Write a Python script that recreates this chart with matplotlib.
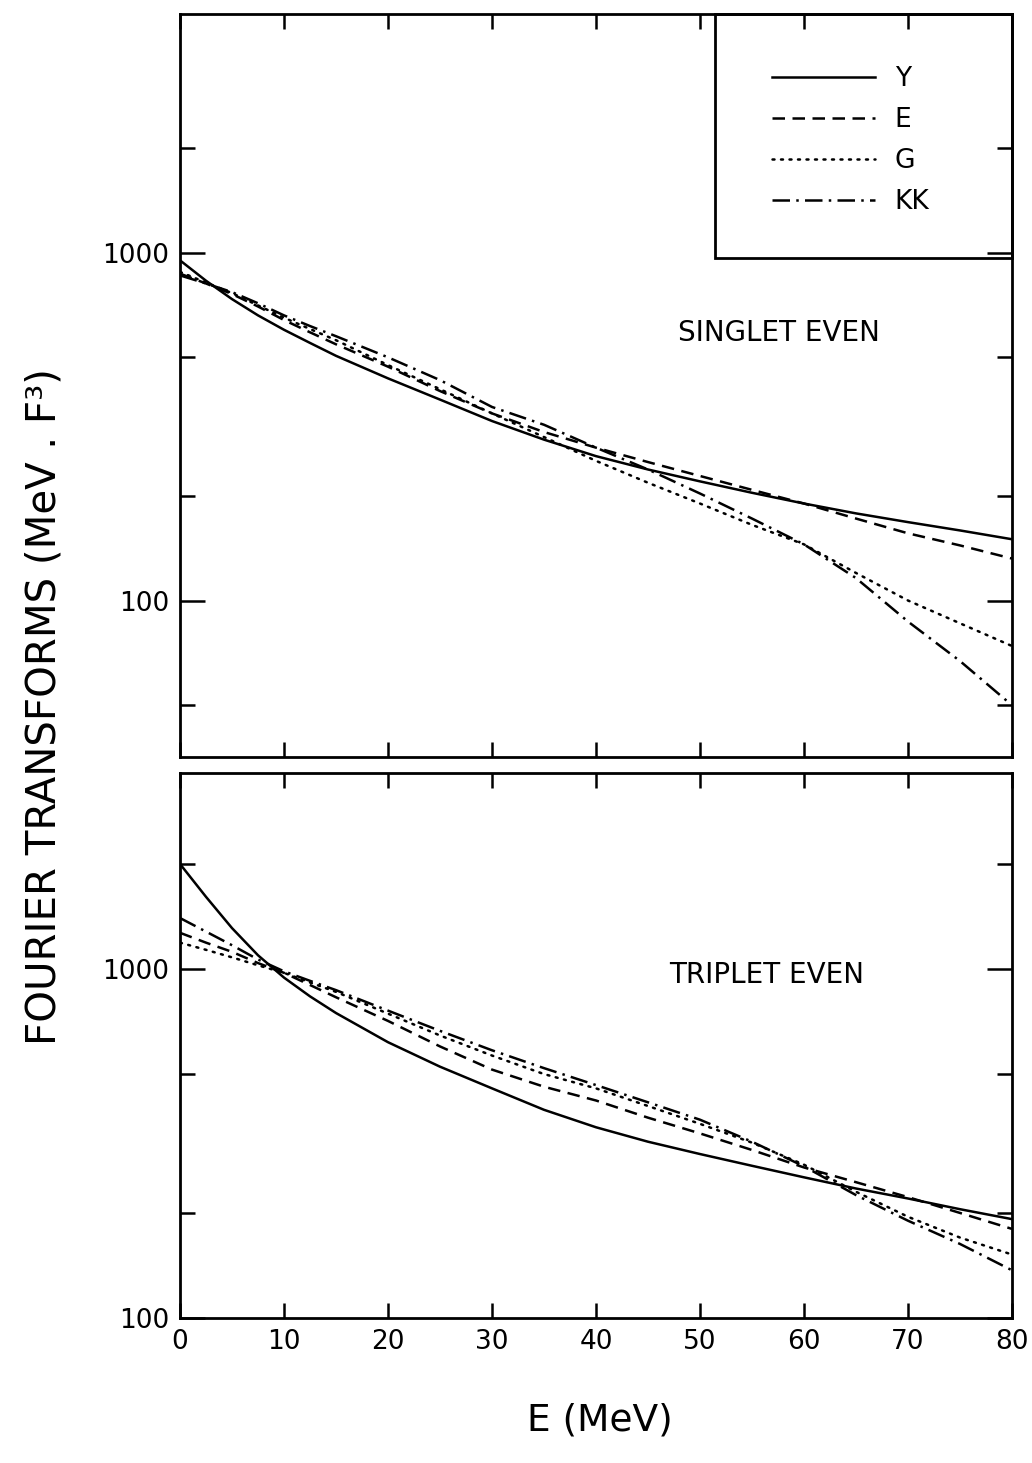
import matplotlib
matplotlib.use("Agg")
import matplotlib.pyplot as plt
from matplotlib.patches import Rectangle

# energy grid (MeV)
energy = [0, 2.5, 5, 7.5, 10, 12.5, 15, 20, 25, 30, 35, 40, 45, 50, 55, 60, 65, 70, 75, 80]

# singlet even Fourier transforms (MeV.F^3)
singlet_y = [950, 830, 735, 660, 600, 550, 505, 435, 378, 328, 290, 260, 238, 220, 204, 190, 178, 168, 159, 150]
singlet_e = [870, 815, 760, 700, 640, 590, 545, 470, 400, 345, 305, 275, 250, 228, 208, 190, 172, 156, 144, 132]
singlet_g = [880, 820, 765, 705, 650, 603, 560, 475, 405, 345, 295, 252, 218, 190, 165, 145, 120, 100, 86, 74]
singlet_kk = [860, 815, 770, 715, 660, 615, 575, 500, 430, 360, 320, 275, 238, 203, 172, 145, 116, 87, 67, 50]

# triplet even Fourier transforms (MeV.F^3)
triplet_y = [2000, 1610, 1310, 1095, 945, 835, 748, 617, 525, 455, 395, 352, 320, 295, 273, 253, 235, 220, 205, 192]
triplet_e = [1270, 1190, 1120, 1040, 975, 900, 830, 710, 600, 515, 460, 420, 375, 338, 303, 270, 245, 222, 200, 180]
triplet_g = [1190, 1135, 1080, 1025, 975, 915, 860, 745, 645, 565, 500, 455, 405, 360, 318, 275, 230, 195, 170, 152]
triplet_kk = [1400, 1280, 1170, 1065, 985, 925, 870, 760, 665, 585, 520, 465, 415, 370, 320, 272, 225, 190, 163, 137]

names = ["Y", "E", "G", "KK"]
x_ticks = [0, 10, 20, 30, 40, 50, 60, 70, 80]

plt.rcParams['font.family'] = 'DejaVu Sans'

W, H = 1032, 1463
fig = plt.figure(figsize=(W / 100, H / 100), dpi=100)
fig.patch.set_facecolor('white')

left, right = 180, 1012
ax1 = fig.add_axes([left / W, 1 - 757 / H, (right - left) / W, (757 - 14) / H])
ax2 = fig.add_axes([left / W, 1 - 1318 / H, (right - left) / W, (1318 - 773) / H])

LW = 1.8
styles = [
    dict(linestyle='-'),
    dict(linestyle=(0, (5, 3))),
    dict(linestyle=(0, (0.8, 2.6)), dash_capstyle='round'),
    dict(linestyle=(0, (7, 2.5, 1, 2.5))),
]


def setup(ax, ylim, minors, show_x):
    ax.set_yscale('log')
    ax.set_xlim(0, 80)
    ax.set_ylim(*ylim)
    for s in ax.spines.values():
        s.set_linewidth(2.0)
    ax.set_xticks(x_ticks)
    ax.set_yticks([100, 1000])
    ax.set_yticklabels(['100', '1000'])
    ax.set_yticks(minors, minor=True)
    ax.yaxis.set_minor_formatter(plt.NullFormatter())
    ax.tick_params(axis='both', which='both', direction='in', top=True, right=True,
                   width=1.8, colors='black')
    ax.tick_params(axis='y', which='major', length=18, labelsize=19, pad=8)
    ax.tick_params(axis='y', which='minor', length=11)
    ax.tick_params(axis='x', which='major', length=11, labelsize=19, pad=8)
    ax.tick_params(axis='x', which='minor', bottom=False, top=False)
    if show_x:
        ax.set_xticklabels([str(v) for v in x_ticks])
    else:
        ax.set_xticklabels([])


setup(ax1, (35.5, 4850), [50, 200, 500, 2000], False)
setup(ax2, (100, 3645), [200, 500, 2000], True)

for series, st, nm in zip([singlet_y, singlet_e, singlet_g, singlet_kk], styles, names):
    ax1.plot(energy, series, color='black', lw=LW, label=nm, **st)
for series, st in zip([triplet_y, triplet_e, triplet_g, triplet_kk], styles):
    ax2.plot(energy, series, color='black', lw=LW, **st)

# legend box in the upper right corner of the top panel
bx = (715 - left) / (right - left)
by = (757 - 258) / (757 - 14)
ax1.add_patch(Rectangle((bx, by), 1 - bx, 1 - by, transform=ax1.transAxes,
                        fill=False, edgecolor='black', lw=2.0, clip_on=False))
ax1.legend(loc='upper left', bbox_to_anchor=((772 - left) / (right - left), (757 - 66) / (757 - 14)),
           frameon=False, fontsize=19, handlelength=3.9, handletextpad=0.75,
           labelspacing=0.57, borderpad=0, borderaxespad=0)

ax1.text(0.72, (757 - 333) / (757 - 14), "SINGLET EVEN", transform=ax1.transAxes,
         ha='center', va='center', fontsize=20)
ax2.text(0.705, (1318 - 975) / (1318 - 773), "TRIPLET EVEN", transform=ax2.transAxes,
         ha='center', va='center', fontsize=20)

fig.text(45 / W, 1 - 707 / H, "FOURIER TRANSFORMS (MeV . F\u00b3)", rotation=90,
         ha='center', va='center', fontsize=29)
fig.text(600 / W, 1 - 1420 / H, "E (MeV)", ha='center', va='center', fontsize=27)

fig.savefig("out.png", dpi=100, facecolor='white')
